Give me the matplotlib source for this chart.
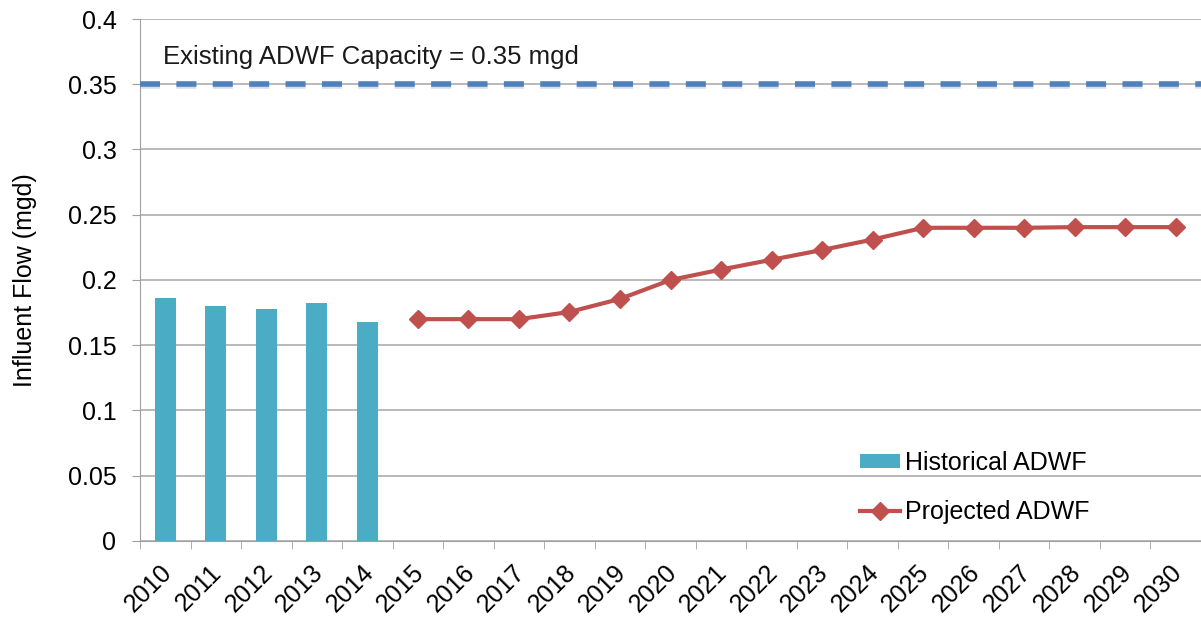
import matplotlib.pyplot as plt
import matplotlib.patheffects as pe
import matplotlib.transforms as mtransforms
from matplotlib.lines import Line2D
from matplotlib.patches import Patch

plt.rcParams['font.family'] = ['Liberation Sans', 'DejaVu Sans']

# historical flows (bars) and projected flows (line)
hist_years = ['2010', '2011', '2012', '2013', '2014']
hist_flow = [0.186, 0.180, 0.1775, 0.182, 0.168]

proj_years = ['2015', '2016', '2017', '2018', '2019', '2020', '2021', '2022',
              '2023', '2024', '2025', '2026', '2027', '2028', '2029', '2030']
proj_flow = [0.170, 0.170, 0.170, 0.1755, 0.1855, 0.200, 0.208, 0.2155,
             0.223, 0.231, 0.240, 0.240, 0.240, 0.2405, 0.2405, 0.2405]

capacity = 0.35
capacity_label = 'Existing ADWF Capacity = 0.35 mgd'
years = hist_years + proj_years

bar_color = '#4BACC6'
line_color = '#C0504D'
cap_color = '#4F81BD'

fig = plt.figure(figsize=(12.01, 6.17), dpi=100)
ax = fig.add_axes([0.1166, 0.1232, 0.8834, 0.846])

xh = [years.index(y) for y in hist_years]
xp = [years.index(y) for y in proj_years]

ax.bar(xh, hist_flow, width=0.42, color=bar_color, zorder=3)
ax.plot(xp, proj_flow, color=line_color, linewidth=3, marker='D',
        markersize=9.5, zorder=4)

ax.axhline(capacity, color=cap_color, linewidth=4, dashes=(3.6, 2.95),
           zorder=5,
           path_effects=[pe.SimpleLineShadow(offset=(0, -1.5), shadow_color='#7f93b0',
                                             alpha=0.3), pe.Normal()])
ax.text(-0.045, 0.371, capacity_label, fontsize=18.5, ha='left', va='center',
        color='#1a1a1a')

ax.set_xlim(-0.5, len(years) - 0.5)
ax.set_ylim(0, 0.4)
ax.set_yticks([0, 0.05, 0.1, 0.15, 0.2, 0.25, 0.3, 0.35, 0.4])
ax.set_yticklabels(['0', '0.05', '0.1', '0.15', '0.2', '0.25', '0.3', '0.35', '0.4'])
ax.set_xticks(range(len(years)))
ax.set_xticklabels(years, rotation=45, ha='right', rotation_mode='anchor')
ax.set_xticks([i - 0.5 for i in range(len(years) + 1)], minor=True)

ax.tick_params(axis='x', which='major', length=0, labelsize=18, pad=14)
ax.tick_params(axis='x', which='minor', length=6, color='#a0a0a0', direction='out')
ax.tick_params(axis='y', length=6, color='#a0a0a0', labelsize=18, pad=11)

# nudge the slanted year labels a little to the left
shift = mtransforms.ScaledTranslation(-6 / 100, 0, fig.dpi_scale_trans)
for lbl in ax.get_xticklabels():
    lbl.set_transform(lbl.get_transform() + shift)

ax.grid(axis='y', color='#a6a6a6', linewidth=1.1, zorder=0)
ax.set_axisbelow(True)
for s in ['top', 'right']:
    ax.spines[s].set_visible(False)
ax.spines['left'].set_color('#a0a0a0')
ax.spines['bottom'].set_color('#a0a0a0')

ax.set_ylabel('Influent Flow (mgd)', fontsize=18, labelpad=22)

handles = [Patch(facecolor=bar_color, edgecolor='none'),
           Line2D([], [], color=line_color, linewidth=3, marker='D', markersize=9.5)]
ax.legend(handles, ['Historical ADWF', 'Projected ADWF'], loc='center left',
          bbox_to_anchor=(0.679, 0.1025), frameon=False, fontsize=18,
          labelspacing=1.0, handlelength=1.6, handleheight=0.5,
          handletextpad=0.2, borderpad=0, borderaxespad=0)

fig.savefig('out.png', dpi=100)
